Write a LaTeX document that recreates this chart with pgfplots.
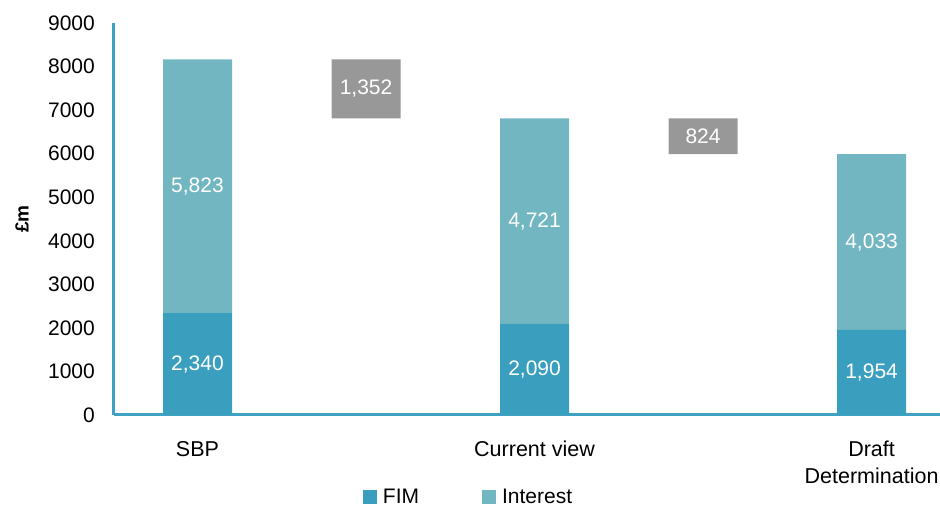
\documentclass[border=0pt]{standalone}
\usepackage{fontspec}
\setmainfont{Liberation Sans}
\usepackage{pgfplots}
\pgfplotsset{compat=1.18}
\usepackage{pgfplotstable}

\definecolor{fimc}{HTML}{3A9FBF}
\definecolor{intc}{HTML}{71B6C1}
\definecolor{chgc}{HTML}{989898}
\definecolor{axc}{HTML}{3FA2C3}

% Bridge from SBP to Draft Determination (in £m)
\pgfplotstableread{
x base fim  interest change
0 0    2340 5823     0
1 6811 0    0        1352
2 0    2090 4721     0
3 5987 0    0        824
4 0    1954 4033     0
}\bridge

% Segment labels: segment bottom and segment value
\pgfplotstableread{
x base value
0 0    2340
0 2340 5823
1 6811 1352
2 0    2090
2 2090 4721
3 5987 824
4 0    1954
4 1954 4033
}\seglabels

\pgfplotsset{
  common/.style={
    scale only axis, width=826pt, height=392pt,
    at={(114pt,93pt)}, anchor=south west,
    xmin=-0.4955, xmax=4.406, ymin=0, ymax=9000,
  },
}

\begin{document}
\begin{tikzpicture}
\useasboundingbox (0,0) rectangle (940pt,508pt);
\clip (0,0) rectangle (940pt,508pt);

\begin{axis}[
  common,
  ybar stacked, bar width=69pt,
  axis x line=bottom, axis y line=left,
  axis line style={draw=axc, line width=3pt, -},
  major tick length=0pt, tick style={draw=none},
  ytick={0,1000,...,9000},
  xtick={0,2,4},
  xticklabels={SBP, Current view, {Draft\\Determination}},
  xticklabel style={align=center, anchor=north, inner sep=0pt, yshift=-26pt,
    font=\fontsize{21.5}{27}\selectfont},
  yticklabel style={anchor=east, inner sep=0pt, xshift=-19pt,
    font=\fontsize{21}{25}\selectfont},
  ylabel={£m},
  ylabel style={at={(axis description cs:-0.1114,0.5)}, anchor=center,
    font=\fontsize{19}{23}\selectfont\bfseries},
  /pgf/number format/1000 sep={},
  /pgf/number format/assume math mode=true,
]
\addplot[draw=none, fill=none] table[x=x, y=base] {\bridge};
\addplot[draw=none, fill=fimc] table[x=x, y=fim] {\bridge};
\addplot[draw=none, fill=intc] table[x=x, y=interest] {\bridge};
\addplot[draw=none, fill=chgc] table[x=x, y=change] {\bridge};
\end{axis}

\begin{axis}[
  common,
  hide axis,
  legend columns=2,
  legend style={at={(axis description cs:0.428,-0.210)}, anchor=center,
    draw=none, fill=none, font=\fontsize{21}{25}\selectfont,
    /tikz/every odd column/.append style={column sep=6pt},
    /tikz/every even column/.append style={column sep=63pt},
    nodes={inner sep=0pt}},
  legend image code/.code={\fill[#1] (0pt,-7pt) rectangle (14pt,7pt);},
  /pgf/number format/fixed,
  /pgf/number format/precision=0,
  /pgf/number format/1000 sep={,},
  /pgf/number format/assume math mode=true,
]
\addlegendimage{draw=none, fill=fimc}
\addlegendentry{FIM}
\addlegendimage{draw=none, fill=intc}
\addlegendentry{Interest}
\addplot[only marks, mark=none,
  point meta=explicit, nodes near coords,
  every node near coord/.append style={anchor=center, text=white,
    inner sep=0pt, font=\fontsize{21}{25}\selectfont}]
  table[x=x, y expr=\thisrow{base}+0.5*\thisrow{value}, meta=value] {\seglabels};
\end{axis}
\end{tikzpicture}
\end{document}
